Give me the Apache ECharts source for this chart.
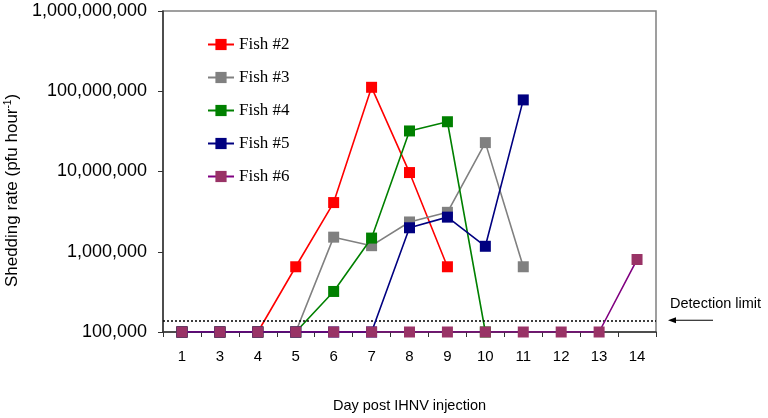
<!DOCTYPE html>
<html><head><meta charset="utf-8">
<script src="https://cdn.jsdelivr.net/npm/echarts@6/dist/echarts.min.js"></script>
<style>html,body{margin:0;padding:0;background:#fff}#c{width:768px;height:418px}</style>
</head><body><div id="c"></div>
<script>
const days = ['1','3','4','5','6','7','8','9','10','11','12','13','14'];
const fish2 = [1e5,1e5,1e5,650000,4100000,112000000,9700000,650000,null,null,null,null,null];
const fish3 = [1e5,1e5,1e5,1e5,1520000,1190000,2350000,3100000,22900000,650000,null,null,null];
const fish4 = [1e5,1e5,1e5,1e5,320000,1480000,32000000,41700000,1e5,null,null,null,null];
const fish5 = [1e5,1e5,1e5,1e5,1e5,1e5,1990000,2700000,1170000,78000000,null,null,null];
const fish6 = [1e5,1e5,1e5,1e5,1e5,1e5,1e5,1e5,1e5,1e5,1e5,1e5,800000];
const seriesNames = ['Fish #2','Fish #3','Fish #4','Fish #5','Fish #6'];
const seriesData = [fish2, fish3, fish4, fish5, fish6];
const lineColors = ['#FF0000','#808080','#008000','#000080','#800080'];
const markerColors = ['#FF0000','#808080','#008000','#000080','#993366'];
const detectionLimit = 140000;
const yMin = 1e5, yMax = 1e9;

const chart = echarts.init(document.getElementById('c'));
const sans = 'Liberation Sans, Arial, sans-serif';
const series = seriesNames.map((n, i) => ({
  name: n, type: 'line', data: seriesData[i],
  symbol: 'rect', symbolSize: 11, connectNulls: false,
  lineStyle: { color: lineColors[i], width: 1.6 },
  itemStyle: { color: markerColors[i] },
  emphasis: { disabled: true },
  z: 2 + i,
  markLine: i === 0 ? {
    silent: true, symbol: 'none',
    lineStyle: { type: [2, 2], color: '#000', width: 1.5 },
    label: { show: false },
    data: [{ yAxis: detectionLimit }]
  } : undefined
}));

chart.setOption({
  animation: false,
  backgroundColor: '#fff',
  grid: { left: 163, right: 112, top: 11, bottom: 86, containLabel: false, outerBoundsMode: 'none',
    show: true, borderColor: '#808080', borderWidth: 1.5 },
  legend: {
    orient: 'vertical', left: 202, top: 31, itemWidth: 26, itemHeight: 14, itemGap: 16,
    textStyle: { fontFamily: 'Liberation Serif, Times New Roman, serif', fontSize: 17, color: '#000' },
    data: seriesNames
  },
  xAxis: {
    type: 'category', data: days, boundaryGap: true,
    name: 'Day post IHNV injection', nameLocation: 'middle', nameGap: 66,
    nameTextStyle: { fontFamily: sans, fontSize: 14.5, color: '#000' },
    axisLine: { lineStyle: { color: '#333', width: 1.5 } },
    axisTick: { show: true, length: 5, lineStyle: { color: '#333' } },
    axisLabel: { fontFamily: sans, fontSize: 15, color: '#000', margin: 17 }
  },
  yAxis: {
    type: 'log', logBase: 10, min: yMin, max: yMax,
    name: '{n|Shedding rate (pfu hour}{s|-1}{n|)}', nameLocation: 'middle', nameGap: 140, nameRotate: 90,
    nameTextStyle: { padding: [0, 38, 0, 0], rich: { n: { fontFamily: sans, fontSize: 17, color: '#000' }, s: { fontFamily: sans, fontSize: 10, color: '#000', verticalAlign: 'top', padding: [0,0,8,0] } } },
    axisLine: { show: true, lineStyle: { color: '#333', width: 1.5 } },
    axisTick: { show: true, length: 5, lineStyle: { color: '#333' } },
    splitLine: { show: false },
    axisLabel: { fontFamily: sans, fontSize: 18, color: '#000', margin: 16,
      formatter: v => Math.round(v).toLocaleString('en-US') }
  },
  series: series
});

const yl = chart.convertToPixel({ yAxisIndex: 0 }, detectionLimit);
chart.setOption({
  graphic: [
    { type: 'text', left: 670, top: yl - 24, style: { text: 'Detection limit', fontFamily: sans, fontSize: 14.5, fill: '#000' } },
    { type: 'line', shape: { x1: 675, y1: yl, x2: 713, y2: yl }, style: { stroke: '#000', lineWidth: 1.2 } },
    { type: 'polygon', shape: { points: [[668, yl], [676, yl - 3], [676, yl + 3]] }, style: { fill: '#000' } }
  ]
});
</script></body></html>
